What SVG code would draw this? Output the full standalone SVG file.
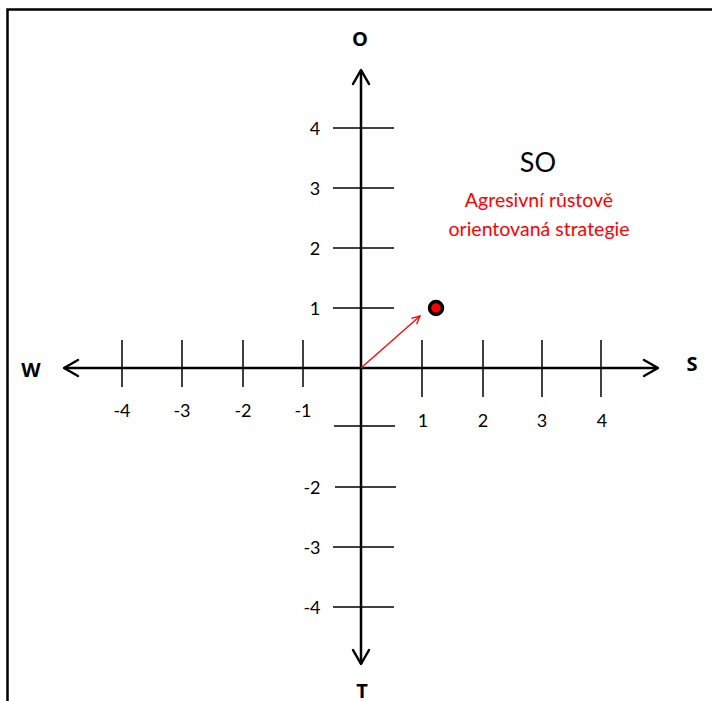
<svg xmlns="http://www.w3.org/2000/svg" width="712" height="701" viewBox="0 0 712 701">
<style>
.axis{stroke:#000;stroke-width:2.5;fill:none}
.head{stroke:#000;stroke-width:2.5;fill:none;stroke-linecap:round;stroke-linejoin:round}
.tick{stroke:#000;stroke-width:1.5}
.num{font-family:Lato,"Open Sans",sans-serif;font-size:18px;fill:#000;text-anchor:middle}
.dir{font-family:"Open Sans",Lato,sans-serif;font-size:20px;font-weight:bold;fill:#000;text-anchor:middle}
.red{font-family:Lato,"Open Sans",sans-serif;font-size:19.5px;fill:#ff0000;text-anchor:middle}
</style>
<defs>
<marker id="redhead" markerWidth="10" markerHeight="10" refX="9" refY="5" orient="auto" markerUnits="userSpaceOnUse">
<path d="M1,1 L9,5 L1,9" fill="none" stroke="#ff0000" stroke-width="1.3"/>
</marker>
</defs>
<rect x="0" y="0" width="712" height="701" fill="#fff"/>
<path d="M7.5,701 L7.5,9.5 L712,9.5" stroke="#000" stroke-width="2.5" fill="none"/>
<g id="connectors">
<line class="axis" x1="361" y1="70" x2="361" y2="664"/>
<line class="axis" x1="64" y1="368" x2="658" y2="368"/>
<polyline class="head" points="353,84 361,70 369,84"/>
<polyline class="head" points="353,650 361,664 369,650"/>
<polyline class="head" points="78,360 64,368 78,376"/>
<polyline class="head" points="644,360 658,368 644,376"/>
<line x1="361" y1="368" x2="420" y2="316" stroke="#ff0000" stroke-width="1.3" marker-end="url(#redhead)"/>
</g>
<g id="y-ticks">
<line class="tick" x1="333" y1="128" x2="394" y2="128"/>
<line class="tick" x1="333" y1="188" x2="394" y2="188"/>
<line class="tick" x1="333" y1="248" x2="394" y2="248"/>
<line class="tick" x1="333" y1="308" x2="394" y2="308"/>
<line class="tick" x1="334" y1="426" x2="395" y2="426"/>
<line class="tick" x1="335" y1="487" x2="396" y2="487"/>
<line class="tick" x1="333" y1="547" x2="394" y2="547"/>
<line class="tick" x1="333" y1="607" x2="394" y2="607"/>
</g>
<g id="x-ticks">
<line class="tick" x1="122" y1="340" x2="122" y2="387"/>
<line class="tick" x1="182" y1="340" x2="182" y2="387"/>
<line class="tick" x1="243" y1="340" x2="243" y2="387"/>
<line class="tick" x1="303" y1="340" x2="303" y2="387"/>
<line class="tick" x1="422" y1="340" x2="422" y2="397"/>
<line class="tick" x1="483" y1="340" x2="483" y2="397"/>
<line class="tick" x1="542" y1="340" x2="542" y2="397"/>
<line class="tick" x1="601" y1="340" x2="601" y2="397"/>
</g>
<g id="y-labels">
<text class="num" x="315" y="135">4</text>
<text class="num" x="315" y="195">3</text>
<text class="num" x="315" y="255">2</text>
<text class="num" x="315" y="315">1</text>
<text class="num" x="312" y="494">-2</text>
<text class="num" x="312" y="554">-3</text>
<text class="num" x="312" y="614">-4</text>
</g>
<g id="x-labels">
<text class="num" x="122" y="417">-4</text>
<text class="num" x="182" y="417">-3</text>
<text class="num" x="243" y="417">-2</text>
<text class="num" x="303" y="417">-1</text>
<text class="num" x="423" y="427">1</text>
<text class="num" x="483" y="427">2</text>
<text class="num" x="542" y="427">3</text>
<text class="num" x="602" y="427">4</text>
</g>
<g id="dir-O"><text class="dir" x="360" y="46" font-size="21">O</text></g>
<g id="dir-W"><text class="dir" x="31" y="377">W</text></g>
<g id="dir-S"><text class="dir" x="692" y="371">S</text></g>
<g id="dir-T"><text class="dir" x="362" y="698">T</text></g>
<g id="point"><circle cx="436" cy="308" r="6.5" fill="#ff0000" stroke="#000" stroke-width="3.5"/></g>
<g id="quadrant-SO">
<text x="538" y="172" font-family="Lato,'Open Sans',sans-serif" font-size="27" fill="#000" text-anchor="middle">SO</text>
<text class="red" x="539" y="207">Agresivní růstově</text>
<text class="red" x="539" y="236">orientovaná strategie</text>
</g>
</svg>
